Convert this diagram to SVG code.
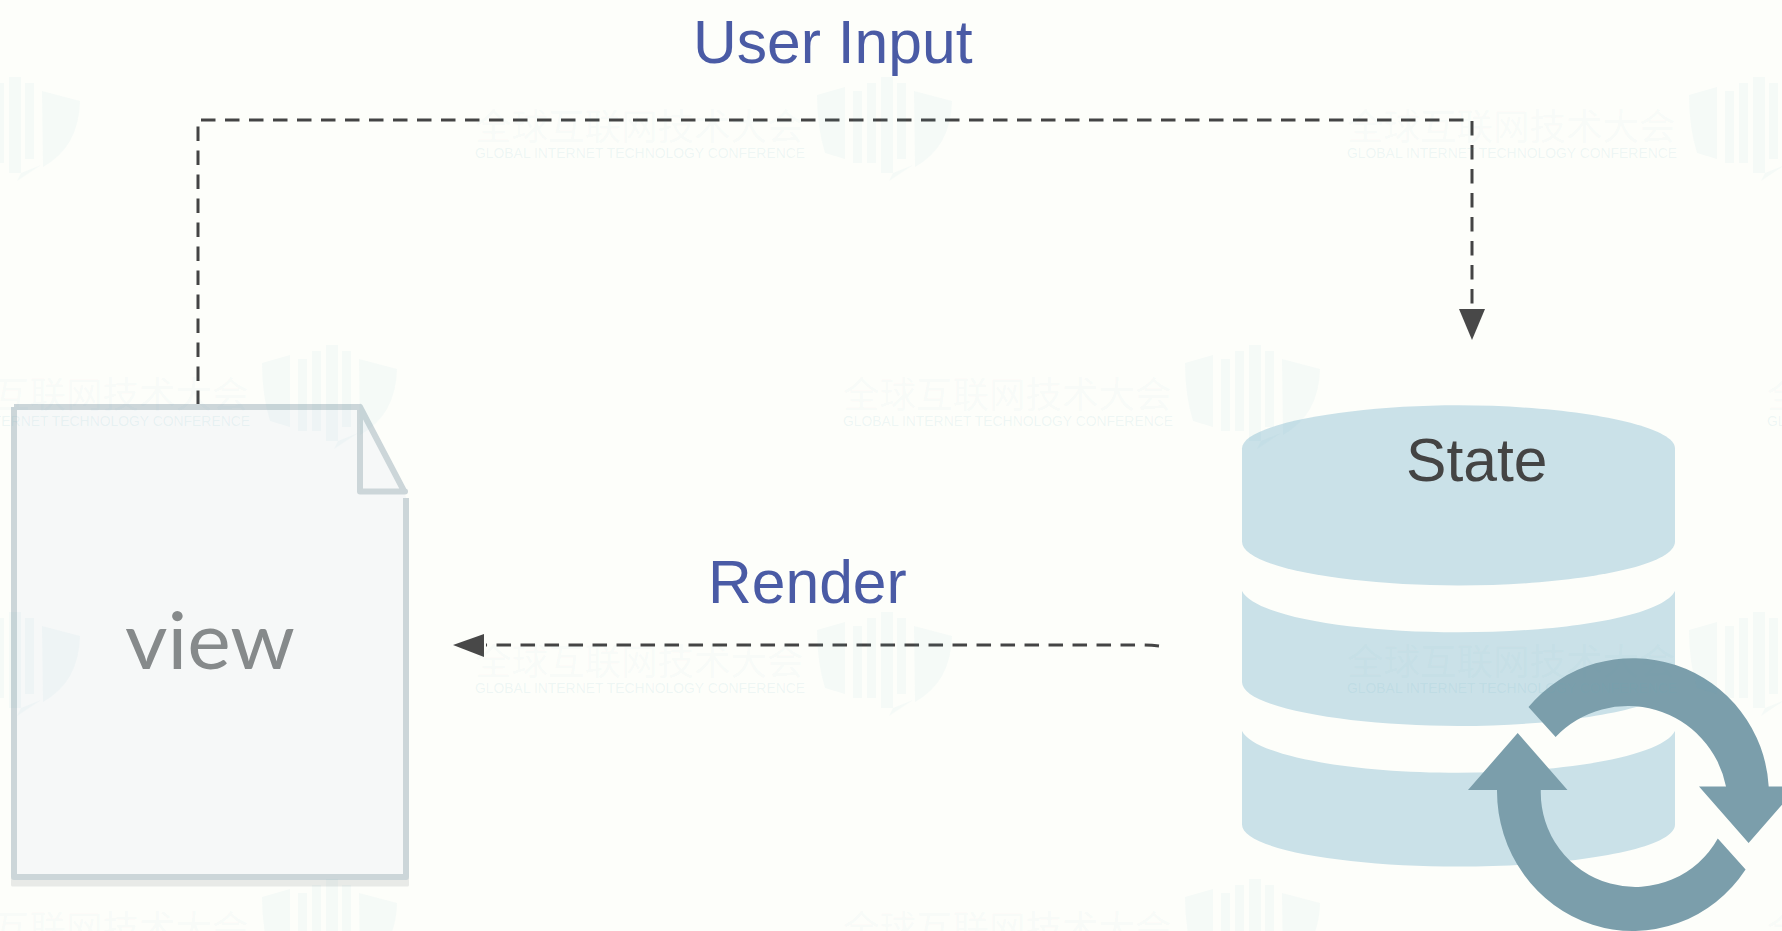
<svg xmlns="http://www.w3.org/2000/svg" xmlns:xlink="http://www.w3.org/1999/xlink" width="1782" height="931" viewBox="0 0 1782 931">
<style>
.lbl{font-family:"Liberation Sans",Arial,sans-serif;font-size:60.6px}
.blue{fill:#4a5ba5}
.conn{fill:none;stroke:#444;stroke-width:3;stroke-dasharray:14.5 9.5}
.head{fill:#484848}
.cyl{fill:#cae1e8}
.sync{fill:#7b9eab}
.wmc{font-family:"Noto Sans CJK SC","Liberation Sans",sans-serif;font-size:36.5px}
.wme{font-family:"Liberation Sans",sans-serif;font-size:15px;fill-opacity:1.6}
</style>
<defs>
<g id="wm" fill="#5fb0c0" fill-opacity="0.05">
<text class="wmc" x="0" y="-3">全球互联网技术大会</text>
<text x="0" y="15" font-family="Liberation Sans,sans-serif" font-size="15" fill-opacity="0.1" textLength="330" lengthAdjust="spacingAndGlyphs">GLOBAL INTERNET TECHNOLOGY CONFERENCE</text>
<g transform="translate(342,-66)">
<path d="M0,18 L28,10 L28,82 L8,76 Q0,50 0,18Z"/>
<path d="M36,14 h9 v72 h-9z M50,6 h9 v80 h-9z M64,0 h12 v96 h-12z M80,6 h9 v76 h-9z"/>
<path d="M97,14 L135,24 Q134,70 98,90Z"/>
<path d="M76,96 L96,88 L72,104Z"/>
</g>
</g>
</defs>
<rect id="background" width="1782" height="931" fill="#fdfefa"/>
<g id="connectors">
<path class="conn" d="M198,405 V120 H1472 V310"/>
<path class="head" d="M1459,309 H1485 L1472,340Z"/>
<path class="conn" d="M1159,646 Q1150,645 1140,645 H486"/>
<path class="head" d="M453,645 L484,634 V657Z"/>
</g>
<g id="user-input-label"><text class="lbl blue" x="693" y="63">User Input</text></g>
<g id="render-label"><text class="lbl blue" x="708" y="602.5">Render</text></g>
<g id="view">
<rect x="11" y="877" width="398" height="9.5" rx="1.5" fill="#e8eae7"/>
<path d="M14,407 H360 L406,497 V877 H14Z" fill="#f6f8f8"/>
<path d="M14,407 H360 M406,498 V877 H14 V407" fill="none" stroke="#ccd6d9" stroke-width="6" stroke-linejoin="round"/>
<path d="M360,407 L404,491 M360,407 V491.5 H405" fill="none" stroke="#ccd6d9" stroke-width="6" stroke-linecap="round" stroke-linejoin="round"/>
<text x="210" y="669" text-anchor="middle" font-family="Lato,'Open Sans',sans-serif" font-size="80" textLength="170" lengthAdjust="spacingAndGlyphs" fill="#868a8b">view</text>
</g>
<g id="state">
<path class="cyl" d="M1242,448.5 C1242,424 1350,405.3 1458.5,405.3 C1567,405.3 1675,424 1675,448.5 V541.6 C1675,568 1567,585.5 1458.5,585.5 C1350,585.5 1242,568 1242,541.6Z"/>
<path class="cyl" d="M1242,591 C1255,616 1350,632.3 1458.5,632.3 C1567,632.3 1662,616 1675,591 V682 C1675,708 1567,726 1458.5,726 C1350,726 1242,708 1242,682Z"/>
<path class="cyl" d="M1242,731 C1255,756 1350,772.8 1458.5,772.8 C1567,772.8 1662,756 1675,731 V824.5 C1675,850 1567,866.6 1458.5,866.6 C1350,866.6 1242,850 1242,824.5Z"/>
<text class="lbl" x="1406" y="481" fill="#444">State</text>
<g id="sync-icon">
<path class="sync" d="M1528.5,707 A136,136 0 0 1 1768.7,786.5 H1798 L1748.6,843 L1699,786.5 H1726 A100,100 0 0 0 1555.6,737Z"/>
<path class="sync" d="M1517.7,733 L1567.5,790 H1540.8 A94.5,94.5 0 0 0 1717.8,838.5 L1745.6,869.5 A136,140 0 0 1 1497,790 H1468Z"/>
</g>
</g>
<g id="watermarks">
<use xlink:href="#wm" href="#wm" x="475" y="143"/>
<use xlink:href="#wm" href="#wm" x="1347" y="143"/>
<use xlink:href="#wm" href="#wm" x="-397" y="143"/>
<use xlink:href="#wm" href="#wm" x="-80" y="411"/>
<use xlink:href="#wm" href="#wm" x="843" y="411"/>
<use xlink:href="#wm" href="#wm" x="1767" y="411"/>
<use xlink:href="#wm" href="#wm" x="475" y="678"/>
<use xlink:href="#wm" href="#wm" x="1347" y="678"/>
<use xlink:href="#wm" href="#wm" x="-397" y="678"/>
<use xlink:href="#wm" href="#wm" x="-80" y="945"/>
<use xlink:href="#wm" href="#wm" x="843" y="945"/>
<use xlink:href="#wm" href="#wm" x="1767" y="945"/>
</g>
</svg>
